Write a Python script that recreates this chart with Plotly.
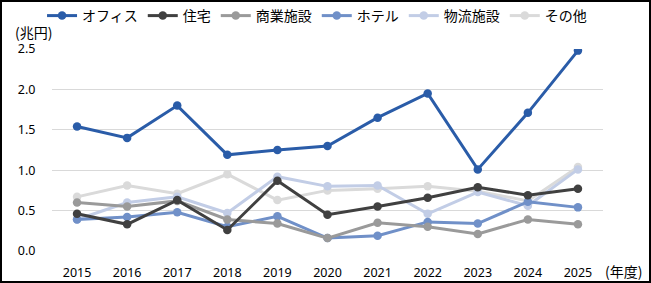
import plotly.graph_objects as go

years = [str(y) for y in range(2015, 2026)]
office =      [1.54, 1.40, 1.80, 1.19, 1.25, 1.30, 1.65, 1.95, 1.01, 1.71, 2.48]
residential = [0.46, 0.33, 0.63, 0.26, 0.87, 0.45, 0.55, 0.66, 0.79, 0.69, 0.77]
commercial =  [0.60, 0.55, 0.62, 0.39, 0.34, 0.16, 0.35, 0.30, 0.21, 0.39, 0.33]
hotel =       [0.39, 0.42, 0.48, 0.30, 0.43, 0.16, 0.19, 0.36, 0.34, 0.61, 0.54]
logistics =   [0.39, 0.60, 0.67, 0.47, 0.92, 0.80, 0.81, 0.46, 0.73, 0.56, 1.01]
other =       [0.67, 0.81, 0.71, 0.95, 0.63, 0.75, 0.77, 0.80, 0.74, 0.62, 1.04]

names = ["オフィス", "住宅", "商業施設", "ホテル", "物流施設", "その他"]
series = [office, residential, commercial, hotel, logistics, other]
colors = ["#2a5ca8", "#404040", "#9a9a9a", "#7090c8", "#c2cde6", "#dadada"]

FONT = "Noto Sans CJK JP"
NUMFONT = "Noto Sans"
fig = go.Figure()
for i in reversed(range(len(series))):
    fig.add_trace(go.Scatter(
        x=years, y=series[i], name=names[i], mode="lines+markers",
        line=dict(color=colors[i], width=3),
        marker=dict(color=colors[i], size=8.5),
        legendrank=i + 1,
    ))

L, R, T, B = 52, 48, 49, 32
W, H = 651, 283
pw, ph = W - L - R, H - T - B
fig.update_layout(
    width=W, height=H,
    margin=dict(l=L, r=R, t=T, b=B, autoexpand=False),
    paper_bgcolor="white", plot_bgcolor="white",
    font=dict(family=FONT, size=12, color="#000000"),
    showlegend=True,
    legend=dict(orientation="h", xref="container", yref="container",
                x=0.487, xanchor="center", y=1.0, yanchor="top",
                font=dict(size=14, family=FONT), itemwidth=30, tracegroupgap=0,
                bgcolor="rgba(0,0,0,0)"),
    xaxis=dict(type="category", range=[-0.5, 10.5], showgrid=False, showline=False,
               zeroline=False, ticks="outside", ticklen=10, tickcolor="rgba(0,0,0,0)",
               automargin=False, tickfont=dict(size=12.5, family=NUMFONT)),
    yaxis=dict(range=[0, 2.5], dtick=0.5, tickformat=".1f", showgrid=True,
               gridcolor="#d9d9d9", gridwidth=1, zeroline=False, showline=False,
               ticks="outside", ticklen=13, tickcolor="rgba(0,0,0,0)",
               automargin=False, tickfont=dict(size=12.5, family=NUMFONT)),
    annotations=[
        dict(text="(兆円)", xref="paper", yref="paper", x=-39 / pw, y=1 + 5 / ph,
             xanchor="left", yanchor="bottom", showarrow=False, font=dict(size=14, family=FONT)),
        dict(text="(年度)", xref="paper", yref="paper", x=1, y=-20 / ph,
             xanchor="left", yanchor="middle", showarrow=False, font=dict(size=14, family=FONT)),
    ],
    shapes=[dict(type="rect", xref="paper", yref="paper",
                 x0=-(L - 1) / pw, x1=1 + (R - 1) / pw, y0=-(B - 1) / ph, y1=1 + (T - 1) / ph,
                 line=dict(color="#000000", width=2))],
)
fig.write_html("out.html")
